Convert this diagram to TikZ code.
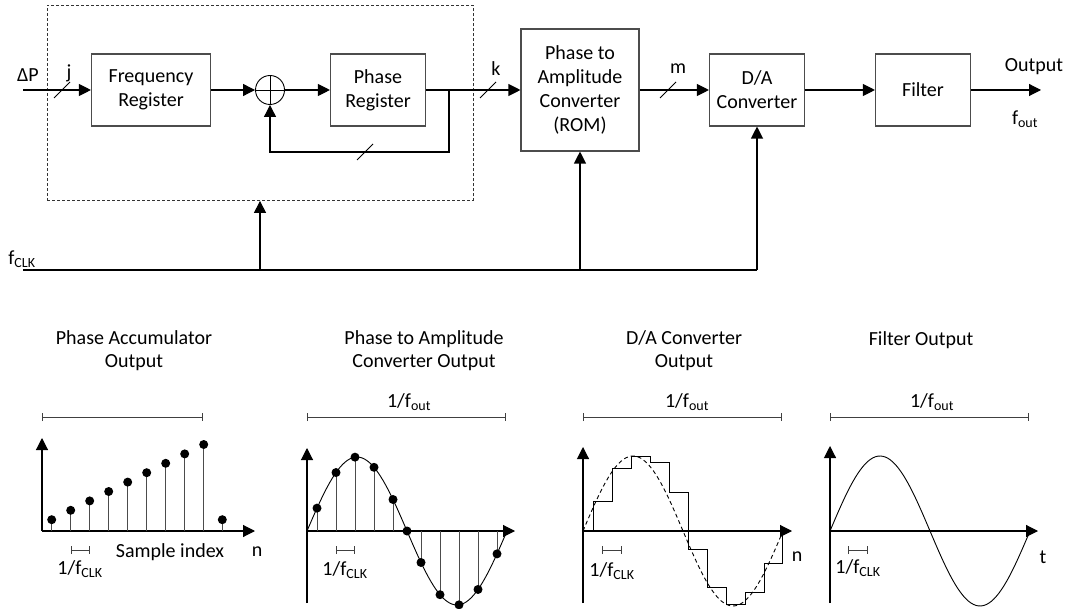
\documentclass[tikz,border=0pt]{standalone}
\usepackage{fontspec}
\setmainfont{Carlito}
\usetikzlibrary{positioning,arrows.meta,calc}

\newcommand{\txt}{\fontsize{20}{24}\selectfont}

\begin{document}
\begin{tikzpicture}[x=1pt,y=-1pt,line width=1.1pt,
    >={Triangle[length=12pt,width=12pt]},
    block/.style={draw=black!70,minimum width=95pt,minimum height=72pt,align=center,font=\txt},
    lbl/.style={inner sep=0pt,font=\txt},
    title/.style={inner sep=0pt,align=center,font=\fontsize{20}{23}\selectfont},
    bus/.style={line width=0.8pt},
    period/.style={{Bar[width=8pt]}-{Bar[width=8pt]},line width=1pt,black!75},
    stem/.style={black!70,line width=1pt},
    curve/.style={line width=0.9pt}
  ]
  \useasboundingbox (0,0) rectangle (1070,609);

  % block diagram
  \node[draw=black!80,line width=0.8pt,dash pattern=on 3pt off 2pt,minimum width=426pt,minimum height=195pt] (acc) at (260,103) {};
  \node[block,minimum width=119pt] (fr) at (151,90) {Frequency\\Register};
  \node[draw,circle,minimum size=29pt,inner sep=0pt,line width=0.9pt] (add) at (270,90) {};
  \node[block] (pr) at (378,90) {Phase\\Register};
  \node[block,minimum width=118pt,minimum height=122pt] (rom) at (580,90) {Phase to\\Amplitude\\Converter\\(ROM)};
  \node[block] (da) at (757,90) {D/A\\Converter};
  \node[block] (flt) at (923,90) {Filter};
  \draw[line width=0.9pt] (add.north) -- (add.south) (add.west) -- (add.east);

  \coordinate (dp) at (23,90);
  \coordinate (tap) at (449,90);
  \coordinate (fb) at (449,152);
  \coordinate (out) at (1041,90);
  \coordinate (clk) at (23,270);

  \draw[->] (dp) -- (fr);
  \draw[->] (fr) -- (add);
  \draw[->] (add) -- (pr);
  \draw[->] (pr) -- (rom);
  \draw[->] (tap) -- (fb) -| (add.south);
  \draw[->] (rom) -- (da);
  \draw[->] (da) -- (flt);
  \draw[->] (flt) -- (out);
  \draw (clk) -- (clk -| da.south);
  \draw[->] (clk -| acc.south) -- (acc.south);
  \draw[->] (clk -| rom.south) -- (rom.south);
  \draw[->] (clk -| da.south) -- (da.south);

  % bus widths
  \draw[bus] (62,90) ++(-8,8) -- ++(16,-16);
  \draw[bus] (365,152) ++(-8,8) -- ++(16,-16);
  \draw[bus] (488,90) ++(-8,8) -- ++(16,-16);
  \draw[bus] (668,90) ++(-8,8) -- ++(16,-16);

  \node[lbl] (dpl) at (28,75) {ΔP};
  \node[lbl] (jl) at (69,73) {j};
  \node[lbl] (kl) at (496,69) {k};
  \node[lbl] (ml) at (678,69) {m};
  \node[lbl] (outl) at (1034,67) {Output};
  \node[lbl] (foutl) at (1025,119) {f\textsubscript{out}};
  \node[lbl] (fclkl) at (22,259) {f\textsubscript{CLK}};

  % titles
  \node[title] (t1) at (134,351) {Phase Accumulator\\Output};
  \node[title] (t2) at (424,351) {Phase to Amplitude\\Converter Output};
  \node[title] (t3) at (684,351) {D/A Converter\\Output};
  \node[title] (t4) at (921,340) {Filter Output};

  % phase accumulator output
  \draw[period] (42,417) -- (203,417);
  \draw[->] (42,531) -- (42,438);
  \draw[->] (42,531) -- (255,531);
  \foreach \i in {0,...,8} {
    \draw[stem] (51.7+19*\i,531) -- (51.7+19*\i,531-11.3-9.4*\i);
    \fill (51.7+19*\i,531-11.3-9.4*\i) circle (4.5pt);
  }
  \draw[stem] (222.3,531) -- (222.3,519.7);
  \fill (222.3,519.7) circle (4.5pt);
  \draw[period] (71,550) -- (90,550);
  \node[lbl] (c1) at (80,569) {1/f\textsubscript{CLK}};
  \node[lbl] (si) at (170,552) {Sample index};
  \node[lbl] (n1) at (257,552) {n};

  % phase to amplitude converter output
  \draw[period] (307,417) -- (506,417);
  \node[lbl] (p2) at (409,402) {1/f\textsubscript{out}};
  \draw[->] (307,603) -- (307,448);
  \draw[->] (307,531) -- (515,531);
  \draw[curve] plot[domain=0:200,samples=80] ({307+\x},{531-74*sin(1.8*\x)});
  \foreach \o in {10,29,48,67,86,100,114,133,152,171,190} {
    \draw[stem] (307+\o,531) -- (307+\o,{531-74*sin(1.8*\o)});
    \fill (307+\o,{531-74*sin(1.8*\o)}) circle (4.5pt);
  }
  \draw[period] (336,550) -- (355,550);
  \node[lbl] (c2) at (345,570) {1/f\textsubscript{CLK}};

  % d/a converter output
  \draw[period] (583,417) -- (782,417);
  \node[lbl] (p3) at (687,402) {1/f\textsubscript{out}};
  \draw[->] (583,603) -- (583,447);
  \draw[->] (583,531) -- (792,531);
  \draw[curve,dash pattern=on 4pt off 3pt] plot[domain=0:199,samples=80] ({583+\x},{531-75*sin(1.8*\x)});
  \begin{scope}[shift={(583,531)}]
    \draw[curve] (0,0) -- (10,0) -- (10,-29.3) -- (29,-29.3) -- (29,-62.3) -- (48,-62.3)
      -- (48,-74.3) -- (67,-74.3) -- (67,-68.3) -- (86,-68.3) -- (86,-39) -- (105,-39)
      -- (105,18.3) -- (124,18.3) -- (124,56.7) -- (143,56.7) -- (143,73.3) -- (162,73.3)
      -- (162,61.7) -- (181,61.7) -- (181,32.7) -- (199,32.7) -- (199,0);
  \end{scope}
  \draw[period] (602,550) -- (622,550);
  \node[lbl] (c3) at (612,571) {1/f\textsubscript{CLK}};
  \node[lbl] (n3) at (797,557) {n};

  % filter output
  \draw[period] (830,417) -- (1029,417);
  \node[lbl] (p4) at (932,402) {1/f\textsubscript{out}};
  \draw[->] (830,603) -- (830,446);
  \draw[->] (830,531) -- (1038,531);
  \draw[curve] plot[domain=0:199,samples=80] ({830+\x},{531-75*sin(1.8*\x)});
  \draw[period] (848,550) -- (868,550);
  \node[lbl] (c4) at (858,568) {1/f\textsubscript{CLK}};
  \node[lbl] (t) at (1043,557) {t};
\end{tikzpicture}
\end{document}
